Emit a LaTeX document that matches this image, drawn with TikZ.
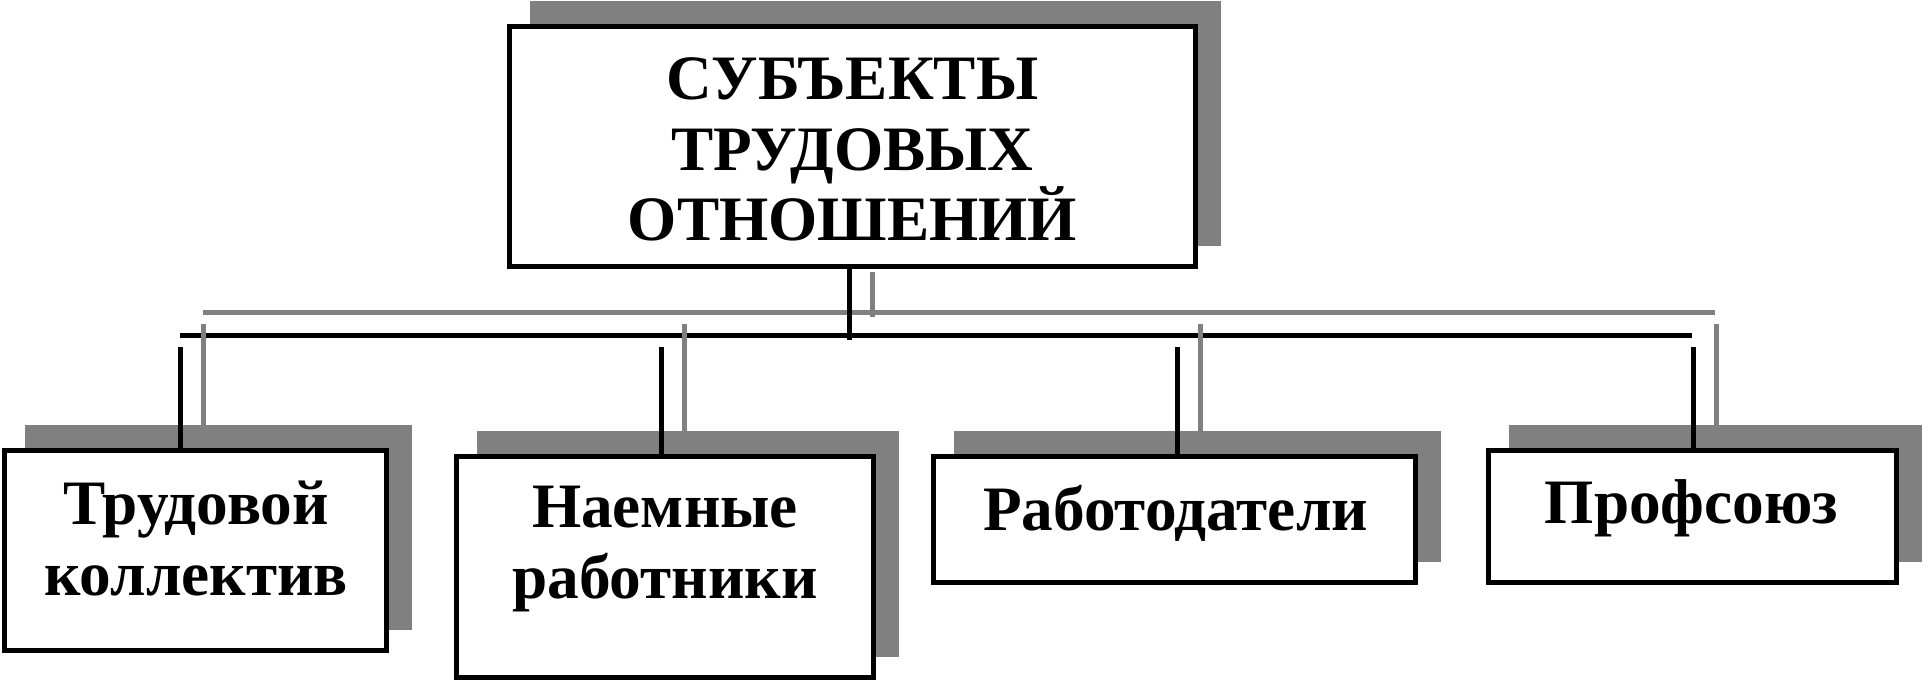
\documentclass[tikz,border=0pt]{standalone}
\usepackage{fontspec}
\setmainfont{Liberation Serif}
\usetikzlibrary{positioning, shadows, calc}
\definecolor{shadowgray}{RGB}{128,128,128}
\tikzset{
  subbox/.style={rectangle, draw=black, fill=white, line width=0.55mm,
    inner sep=0pt,
    drop shadow={shadow xshift=2.3mm, shadow yshift=2.3mm,
      fill=shadowgray, draw=shadowgray, opacity=1}},
  subtext/.style={align=center, inner sep=0pt,
    font=\fontsize{18}{20}\selectfont\bfseries},
  bus/.style={line width=0.5mm, color=black},
  busshadow/.style={line width=0.5mm, color=shadowgray},
}

\begin{document}
\begin{tikzpicture}[x=0.1mm, y=-0.1mm]
  \useasboundingbox (0,0) rectangle (1928,683);

  % boxes
  \node[subbox, minimum width=68.6mm, minimum height=24mm] (top) at (852.5,146.5) {};
  \node[subbox, minimum width=38.2mm, minimum height=20mm] (b1) at (195.5,550.5) {};
  \node[subbox, minimum width=41.7mm, minimum height=22.1mm] (b2) at (665,567) {};
  \node[subbox, minimum width=48.2mm, minimum height=12.6mm] (b3) at (1174.5,519.5) {};
  \node[subbox, minimum width=40.8mm, minimum height=13.2mm] (b4) at (1692.5,516.5) {};

  % texts
  \node[subtext] (t0) at (852.5,149.5) {СУБЪЕКТЫ\\ТРУДОВЫХ\\ОТНОШЕНИЙ};
  \node[subtext] (t1) at (196,538.5) {Трудовой\\коллектив};
  \node[subtext] (t2) at (665,549) {Наемные\\работники};
  \node[subtext] (t3) at (1175.5,513.5) {Работодатели};
  \node[subtext] (t4) at (1691.5,508) {Профсоюз};

  % connectors (gray copy first)
  \coordinate (hub) at (849,340);
  \coordinate (busl) at (180,335);
  \coordinate (busr) at (1692,335);
  \coordinate (hubs) at ($(hub)+(23,-23)$);
  \draw[busshadow] ($(busl)+(23,-23)$) -- ($(busr)+(23,-23)$);
  \draw[busshadow, shorten <=0.3mm] (top.south -| hubs) -- (hubs);
  \draw[bus] (busl) -- (busr);
  \draw[bus] (top.south -| hub) -- (hub);
  \foreach \n/\x in {b1/180, b2/661, b3/1177, b4/1693} {
    \coordinate (d-\n) at (\x,347);
    \draw[busshadow] ($(d-\n)+(23,-23)$) -- ($(d-\n |- \n.north)+(23,-23)$);
    \draw[bus] (d-\n) -- (d-\n |- \n.north);
  }
\end{tikzpicture}
\end{document}
